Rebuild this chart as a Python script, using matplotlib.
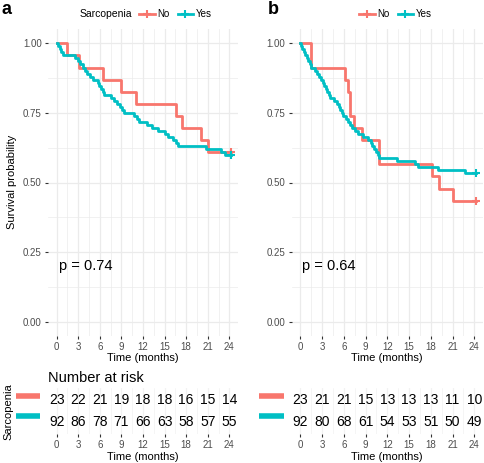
import numpy as np
import matplotlib
matplotlib.use('Agg')
import matplotlib.pyplot as plt
from matplotlib.lines import Line2D
import matplotlib.transforms as mtransforms

plt.rcParams['font.family'] = ['Liberation Sans', 'DejaVu Sans']

# event times (months), no censoring before 24
a_no_events = [1.5, 3.05, 6.5, 8.9, 11.0, 16.6, 17.4, 20.0, 21.1]
a_yes_events = [0.2, 0.4, 0.6, 0.9, 2.6, 2.9, 3.3, 3.6, 3.9, 4.2, 4.6, 5.1,
                5.8, 5.95, 6.2, 6.4, 6.6, 7.6, 8.0, 8.4, 8.8, 9.1, 9.4, 10.8,
                11.1, 11.4, 12.6, 13.2, 14.1, 15.1, 15.5, 16.2, 16.6, 16.9,
                20.7, 22.8, 23.4]
b_no_events = [1.5, 1.5, 6.2, 6.6, 6.8, 6.8, 7.35, 8.5, 10.8, 10.8, 18.2, 19.1, 21.1]
b_yes_events = [0.1, 0.3, 0.5, 0.7, 0.9, 1.1, 1.3, 1.5, 2.0, 2.3, 2.6, 2.85,
                3.1, 3.3, 3.5, 3.7, 3.9, 4.1, 4.6, 5.0, 5.3, 5.5, 5.7, 5.9,
                6.3, 6.6, 6.9, 7.1, 7.5, 7.9, 8.6, 9.3, 9.7, 9.9, 10.2, 10.4,
                10.7, 10.9, 13.4, 15.8, 16.3, 19.0, 22.7]
n_no = 23
n_yes = 92
end_time = 24.2

risk_times = [0, 3, 6, 9, 12, 15, 18, 21, 24]
a_risk_no = [23, 22, 21, 19, 18, 18, 16, 15, 14]
a_risk_yes = [92, 86, 78, 71, 66, 63, 58, 57, 55]
b_risk_no = [23, 21, 21, 15, 13, 13, 13, 11, 10]
b_risk_yes = [92, 80, 68, 61, 54, 53, 51, 50, 49]

p_a = 'p = 0.74'
p_b = 'p = 0.64'

RED = '#F8766D'
TEAL = '#00BFC4'
GRID = '#EBEBEB'
W, H = 484, 463


def km_steps(events, n):
    t = [0.0]
    s = [1.0]
    left = n
    for u in sorted(set(events)):
        d = events.count(u)
        left -= d
        t.append(u)
        s.append(left / n)
    t.append(end_time)
    s.append(s[-1])
    return np.array(t), np.array(s)


def fbox(x0, x1, y0, y1):
    return [x0 / W, 1 - y1 / H, (x1 - x0) / W, (y1 - y0) / H]


fig = plt.figure(figsize=(4.84, 4.63), dpi=100)

panels = [
    (fbox(48, 238, 29.4, 335.6), fbox(48, 238, 388, 434),
     a_no_events, a_yes_events, a_risk_no, a_risk_yes, p_a),
    (fbox(291.6, 483, 29.4, 335.6), fbox(291.6, 483, 388, 434),
     b_no_events, b_yes_events, b_risk_no, b_risk_yes, p_b),
]

for box, rbox, ev_no, ev_yes, r_no, r_yes, ptxt in panels:
    ax = fig.add_axes(box)
    ax.set_xlim(-1.2, 25.2)
    ax.set_ylim(-0.05, 1.05)
    ax.set_xticks(risk_times)
    ax.set_xticks(np.arange(1.5, 24, 3), minor=True)
    ax.set_yticks([0, 0.25, 0.5, 0.75, 1.0])
    ax.set_yticks([0.125, 0.375, 0.625, 0.875], minor=True)
    ax.set_yticklabels(['0.00', '0.25', '0.50', '0.75', '1.00'])
    ax.grid(True, which='major', color=GRID, lw=0.9)
    ax.grid(True, which='minor', color=GRID, lw=0.5)
    ax.set_axisbelow(True)
    for sp in ax.spines.values():
        sp.set_visible(False)
    ax.tick_params(which='major', length=2.5, width=0.8, color='#333333',
                   labelsize=7, labelcolor='#4D4D4D', pad=2)
    ax.tick_params(which='minor', length=0)

    for ev, n, c in [(ev_no, n_no, RED), (ev_yes, n_yes, TEAL)]:
        t, s = km_steps(ev, n)
        ax.step(t, s, where='post', color=c, lw=2)
        ax.plot([t[-1]], [s[-1]], marker='+', color=c, ms=6, mew=1.5)

    ax.text(0.3, 0.2, ptxt, fontsize=10.5, va='center', ha='left')
    ax.set_xlabel('Time (months)', fontsize=8, labelpad=1)

    # risk table
    rax = fig.add_axes(rbox)
    rax.set_xlim(-1.2, 25.2)
    rax.set_ylim(0.45, 2.55)
    rax.set_xticks(risk_times)
    rax.set_xticks(np.arange(1.5, 24, 3), minor=True)
    rax.set_yticks([])
    rax.grid(True, which='major', axis='x', color='#F2F2F2', lw=0.9)
    rax.grid(True, which='minor', axis='x', color='#F2F2F2', lw=0.5)
    rax.set_axisbelow(True)
    for sp in rax.spines.values():
        sp.set_visible(False)
    rax.tick_params(which='major', length=2.5, width=0.8, color='#333333',
                    labelsize=7, labelcolor='#4D4D4D', pad=1.5)
    rax.tick_params(which='minor', length=0)
    for tt, v in zip(risk_times, r_no):
        rax.text(tt, 2, str(v), ha='center', va='center', fontsize=10)
    for tt, v in zip(risk_times, r_yes):
        rax.text(tt, 1, str(v), ha='center', va='center', fontsize=10)
    rax.set_xlabel('Time (months)', fontsize=8, labelpad=2)
    trans = mtransforms.blended_transform_factory(rax.transAxes, rax.transData)
    for yy, c in [(2.2, RED), (1.25, TEAL)]:
        rax.plot([-0.168, -0.042], [yy, yy], color=c, lw=4, transform=trans,
                 clip_on=False, solid_capstyle='butt')

fig.text(12 / W, 1 - 182 / H, 'Survival probability', rotation=90,
         ha='center', va='center', fontsize=8)
fig.text(8 / W, 1 - 412 / H, 'Sarcopenia', rotation=90,
         ha='center', va='center', fontsize=8)
fig.text(48 / W, 1 - 378 / H, 'Number at risk', ha='left', va='center',
         fontsize=10.5)
fig.text(2 / W, 1 - 10 / H, 'a', ha='left', va='center', fontsize=13,
         fontweight='bold')
fig.text(268 / W, 1 - 10 / H, 'b', ha='left', va='center', fontsize=13,
         fontweight='bold')

handles = [Line2D([], [], color=RED, lw=2, marker='+', ms=6, mew=1.5),
           Line2D([], [], color=TEAL, lw=2, marker='+', ms=6, mew=1.5)]
fig.text(80 / W, 1 - 14 / H, 'Sarcopenia', ha='left', va='center', fontsize=7.5)
for x0 in [139, 359]:
    fig.legend(handles, ['No', 'Yes'], ncol=2, frameon=False, fontsize=7,
               loc='center left', bbox_to_anchor=(x0 / W, 1 - 14 / H),
               handlelength=1.6, handletextpad=0.3, columnspacing=0.8,
               borderpad=0, borderaxespad=0)

fig.savefig('out.png', dpi=100)
